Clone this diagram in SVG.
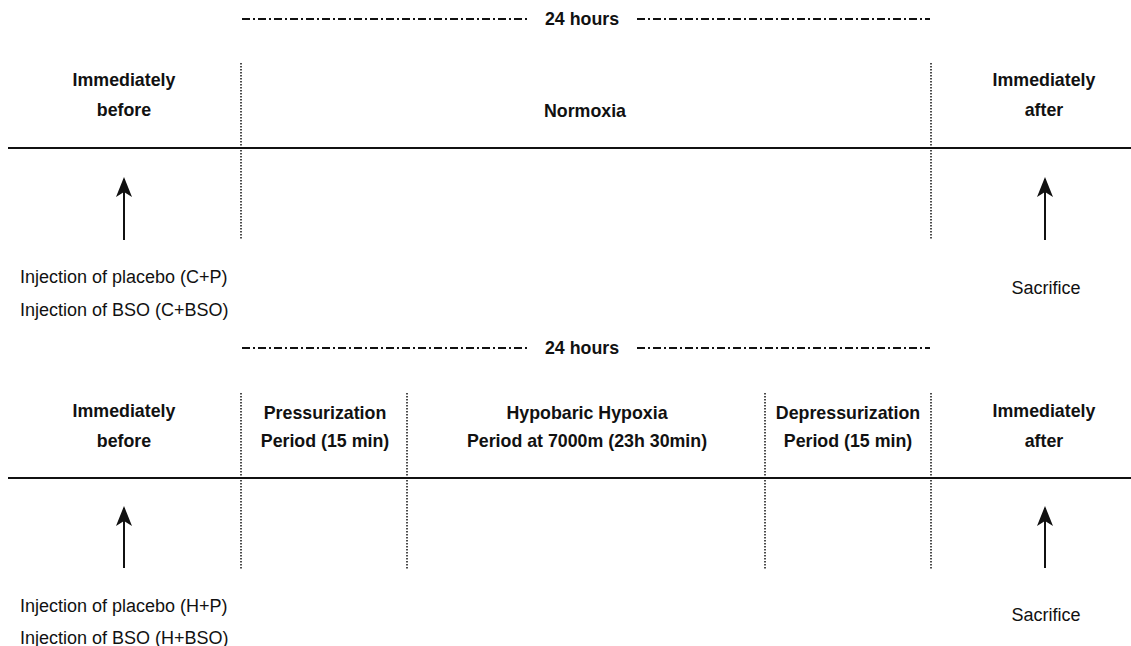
<svg xmlns="http://www.w3.org/2000/svg" width="1131" height="646" viewBox="0 0 1131 646">
<style>
.b{font-family:"Liberation Sans",Arial,sans-serif;font-weight:bold;font-size:17.8px;fill:#111;text-anchor:middle}
.r{font-family:"Liberation Sans",Arial,sans-serif;font-size:18px;fill:#111}
.dd{stroke:#111;stroke-width:2;stroke-dasharray:8 3 2 3;fill:none}
.dot{stroke:#111;stroke-width:1.5;stroke-dasharray:1.5 1.5;fill:none}
.axis{stroke:#111;stroke-width:2;fill:none}
.shaft{stroke:#111;stroke-width:2;fill:none}
</style>
<defs>
<marker id="ah" viewBox="0 0 20 20" refX="18" refY="10" markerWidth="20" markerHeight="20" markerUnits="userSpaceOnUse" orient="auto">
<path d="M20 10 L0 2 L5 10 L0 18 Z" fill="#111"/>
</marker>
</defs>
<rect width="1131" height="646" fill="#fff"/>

<g id="panel-control">
  <g id="duration-top">
    <line class="dd" x1="242" y1="19" x2="527" y2="19"/>
    <text class="b" x="582" y="25">24 hours</text>
    <line class="dd" x1="637" y1="19" x2="930" y2="19"/>
  </g>
  <g id="before-top"><text class="b" x="124" y="86">Immediately</text><text class="b" x="124" y="116">before</text></g>
  <g id="normoxia"><text class="b" x="585" y="117">Normoxia</text></g>
  <g id="after-top"><text class="b" x="1044" y="86">Immediately</text><text class="b" x="1044" y="116">after</text></g>
  <line id="axis-top" class="axis" x1="8" y1="148" x2="1131" y2="148"/>
  <g id="dividers-top">
    <line class="dot" x1="241" y1="63" x2="241" y2="240"/>
    <line class="dot" x1="931" y1="63" x2="931" y2="240"/>
  </g>
  <g id="injection-top">
    <text class="r" x="20" y="283">Injection of placebo (C+P)</text>
    <text class="r" x="20" y="316">Injection of BSO (C+BSO)</text>
  </g>
  <g id="sacrifice-top"><text class="r" x="1046" y="294" text-anchor="middle">Sacrifice</text></g>
</g>

<g id="panel-hypoxia">
  <g id="duration-bottom">
    <line class="dd" x1="242" y1="348" x2="527" y2="348"/>
    <text class="b" x="582" y="354">24 hours</text>
    <line class="dd" x1="637" y1="348" x2="930" y2="348"/>
  </g>
  <g id="before-bottom"><text class="b" x="124" y="417">Immediately</text><text class="b" x="124" y="447">before</text></g>
  <g id="pressurization"><text class="b" x="325" y="419">Pressurization</text><text class="b" x="325" y="447">Period (15 min)</text></g>
  <g id="hypoxia"><text class="b" x="587" y="419">Hypobaric Hypoxia</text><text class="b" x="587" y="447">Period at 7000m (23h 30min)</text></g>
  <g id="depressurization"><text class="b" x="848" y="419">Depressurization</text><text class="b" x="848" y="447">Period (15 min)</text></g>
  <g id="after-bottom"><text class="b" x="1044" y="417">Immediately</text><text class="b" x="1044" y="447">after</text></g>
  <line id="axis-bottom" class="axis" x1="8" y1="478" x2="1131" y2="478"/>
  <g id="dividers-bottom">
    <line class="dot" x1="241" y1="393" x2="241" y2="570"/>
    <line class="dot" x1="407" y1="393" x2="407" y2="570"/>
    <line class="dot" x1="765" y1="393" x2="765" y2="570"/>
    <line class="dot" x1="931" y1="393" x2="931" y2="570"/>
  </g>
  <g id="injection-bottom">
    <text class="r" x="20" y="612">Injection of placebo (H+P)</text>
    <text class="r" x="20" y="644">Injection of BSO (H+BSO)</text>
  </g>
  <g id="sacrifice-bottom"><text class="r" x="1046" y="621" text-anchor="middle">Sacrifice</text></g>
</g>

<g id="connectors">
  <line class="shaft" x1="124" y1="240" x2="124" y2="179" marker-end="url(#ah)"/>
  <line class="shaft" x1="1045" y1="240" x2="1045" y2="179" marker-end="url(#ah)"/>
  <line class="shaft" x1="124" y1="568" x2="124" y2="508" marker-end="url(#ah)"/>
  <line class="shaft" x1="1045" y1="568" x2="1045" y2="508" marker-end="url(#ah)"/>
</g>
</svg>
